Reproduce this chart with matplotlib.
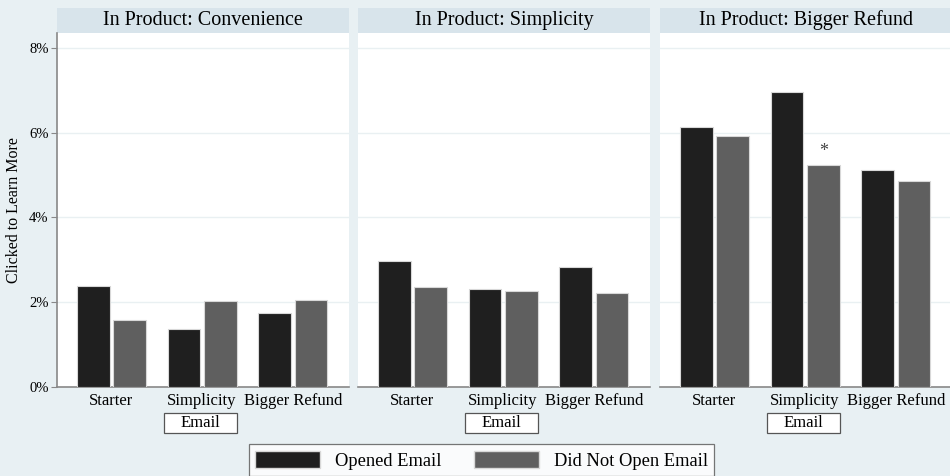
import matplotlib
matplotlib.use("Agg")
from matplotlib import pyplot as plt
from matplotlib.patches import Rectangle, Patch
from matplotlib.ticker import FuncFormatter
import numpy as np

panels = ["In Product: Convenience", "In Product: Simplicity", "In Product: Bigger Refund"]
emails = ["Starter", "Simplicity", "Bigger Refund"]
opened = [[2.39, 1.37, 1.74], [2.98, 2.30, 2.83], [6.14, 6.95, 5.13]]
not_opened = [[1.57, 2.03, 2.05], [2.36, 2.26, 2.22], [5.91, 5.23, 4.87]]
# (panel, email) pairs marked as significant
starred = [(2, 1)]

bg = "#e8f0f3"
strip = "#d8e4eb"
dark = "#1f1f1f"
mid = "#5f5f5f"

plt.rcParams["font.family"] = ["Liberation Serif", "DejaVu Serif"]

fig = plt.figure(figsize=(9.5, 4.76), dpi=100, facecolor=bg)

W, H = 950.0, 476.0
lefts = [57, 358, 660]
pw = 292
top, bottom = 33, 387
ytop = 8.35

x = np.arange(len(emails))
bw = 0.36
off = 0.2

axes = []
for i, name in enumerate(panels):
    ax = fig.add_axes([lefts[i] / W, 1 - bottom / H, pw / W, (bottom - top) / H])
    axes.append(ax)
    ax.set_facecolor("white")
    ax.bar(x - off, opened[i], bw, color=dark, edgecolor="#d8d8d8", linewidth=0.8, zorder=3)
    ax.bar(x + off, not_opened[i], bw, color=mid, edgecolor="#d8d8d8", linewidth=0.8, zorder=3)
    for p, e in starred:
        if p == i:
            ax.text(e + off, not_opened[i][e] + 0.33, "*", ha="center", va="center",
                    fontsize=13, color="#444444")
    ax.set_xlim(-0.6, 2.62)
    ax.set_ylim(0, ytop)
    ax.set_yticks([0, 2, 4, 6, 8])
    ax.yaxis.grid(True, color="#e9f0f2", linewidth=1.0, zorder=0)
    ax.set_xticks(x)
    ax.set_xticklabels(emails, fontsize=12)
    ax.tick_params(axis="x", length=0, pad=4)
    for s in ["top", "right", "left"]:
        ax.spines[s].set_visible(False)
    ax.spines["bottom"].set_color("#888888")
    ax.spines["bottom"].set_linewidth(1.2)
    if i == 0:
        ax.spines["left"].set_visible(True)
        ax.spines["left"].set_color("#888888")
        ax.spines["left"].set_linewidth(1.2)
        ax.yaxis.set_major_formatter(FuncFormatter(lambda v, p: "%d%%" % v))
        ax.tick_params(axis="y", length=4, color="#888888", labelsize=10.5, pad=2)
        ax.set_ylabel("Clicked to Learn More", fontsize=11.5, labelpad=5)
    else:
        ax.tick_params(axis="y", length=0, labelleft=False)

    # title strip
    sh = 25.0 / (bottom - top)
    ax.add_patch(Rectangle((0, 1), 1, sh, transform=ax.transAxes, facecolor=strip,
                           edgecolor="none", clip_on=False))
    ax.text(0.5, 1 + sh / 2, name, transform=ax.transAxes, ha="center", va="center",
            fontsize=14.5)

    # "Email" group box
    trans = ax.get_xaxis_transform()
    by0 = -46.0 / (bottom - top)
    bh = 20.0 / (bottom - top)
    ax.add_patch(Rectangle((1 - 0.42, by0), 0.81, bh, transform=trans, facecolor="white",
                           edgecolor="#555555", linewidth=0.9, clip_on=False))
    ax.text(1 - 0.015, by0 + bh / 2, "Email", transform=trans, ha="center", va="center",
            fontsize=12)

handles = [Patch(facecolor=dark, edgecolor="#d8d8d8"), Patch(facecolor=mid, edgecolor="#d8d8d8")]
leg = fig.legend(handles, ["Opened Email", "Did Not Open Email"], loc="lower center",
                 bbox_to_anchor=(0.507, -0.012), ncol=2, fontsize=13.3, frameon=True,
                 fancybox=False, handlelength=3.5, handleheight=1.05, columnspacing=1.8,
                 borderpad=0.35, handletextpad=0.8, borderaxespad=0.3)
leg.get_frame().set_edgecolor("#555555")
leg.get_frame().set_linewidth(0.9)

fig.savefig("out.png", dpi=100, facecolor=bg)
